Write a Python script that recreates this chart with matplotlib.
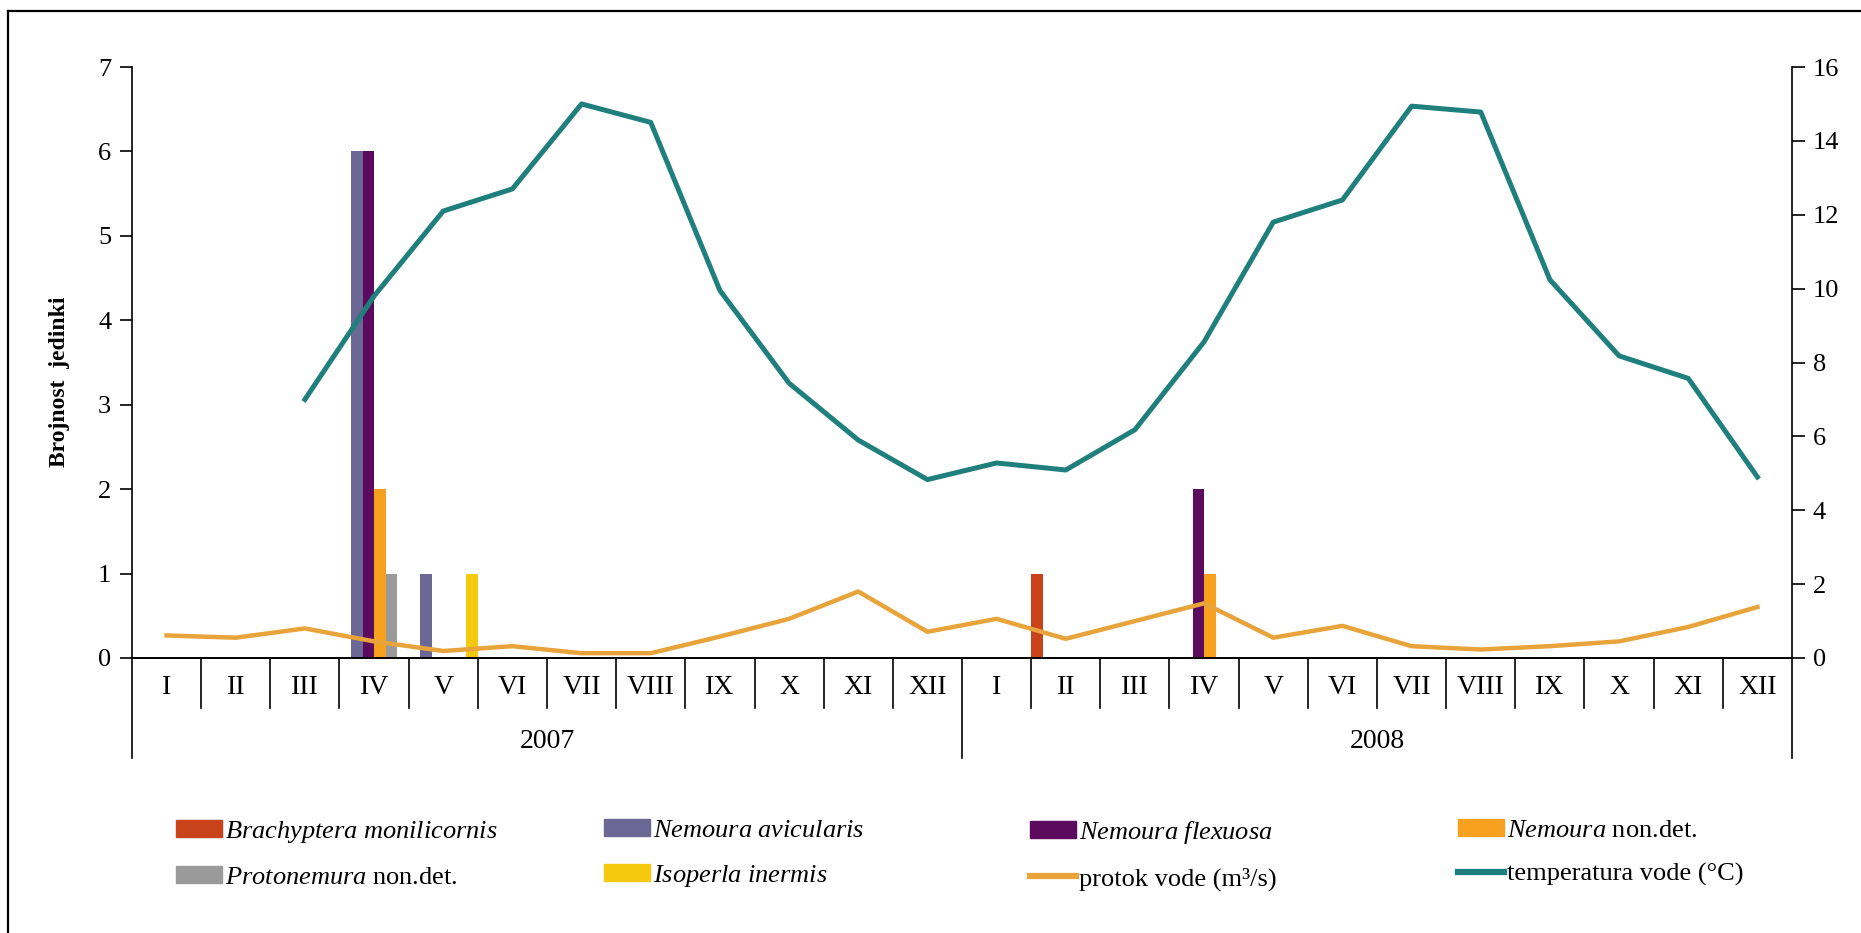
import matplotlib
matplotlib.use("Agg")
import matplotlib.pyplot as plt
import matplotlib.transforms as mtransforms
from matplotlib.patches import Patch
from matplotlib.lines import Line2D
import numpy as np

plt.rcParams['font.family'] = ['Liberation Serif', 'DejaVu Serif']
plt.rcParams['mathtext.fontset'] = 'custom'
plt.rcParams['mathtext.it'] = 'Liberation Serif:italic'
plt.rcParams['mathtext.rm'] = 'Liberation Serif'

# data
months = ["I", "II", "III", "IV", "V", "VI", "VII", "VIII", "IX", "X", "XI", "XII"] * 2
years = ["2007", "2008"]

brachyptera = [0, 0, 0, 0, 0, 0, 0, 0, 0, 0, 0, 0,
               0, 1, 0, 0, 0, 0, 0, 0, 0, 0, 0, 0]
avicularis = [0, 0, 0, 6, 1, 0, 0, 0, 0, 0, 0, 0,
              0, 0, 0, 0, 0, 0, 0, 0, 0, 0, 0, 0]
flexuosa = [0, 0, 0, 6, 0, 0, 0, 0, 0, 0, 0, 0,
            0, 0, 0, 2, 0, 0, 0, 0, 0, 0, 0, 0]
nemoura_nd = [0, 0, 0, 2, 0, 0, 0, 0, 0, 0, 0, 0,
              0, 0, 0, 1, 0, 0, 0, 0, 0, 0, 0, 0]
protonemura = [0, 0, 0, 1, 0, 0, 0, 0, 0, 0, 0, 0,
               0, 0, 0, 0, 0, 0, 0, 0, 0, 0, 0, 0]
isoperla = [0, 0, 0, 0, 1, 0, 0, 0, 0, 0, 0, 0,
            0, 0, 0, 0, 0, 0, 0, 0, 0, 0, 0, 0]

protok = [0.61, 0.55, 0.80, 0.45, 0.19, 0.32, 0.13, 0.13, 0.58, 1.06, 1.80, 0.71,
          1.06, 0.52, 1.00, 1.48, 0.55, 0.87, 0.32, 0.23, 0.32, 0.45, 0.84, 1.38]
temperatura = [np.nan, np.nan, 7.0, 9.8, 12.1, 12.7, 15.0, 14.5, 9.95, 7.44, 5.9, 4.83,
               5.28, 5.09, 6.18, 8.56, 11.8, 12.4, 14.94, 14.78, 10.24, 8.18, 7.57, 4.9]

species = [
    (brachyptera, "#C8421A", r"$\mathit{Brachyptera\ monilicornis}$"),
    (avicularis, "#6B6895", r"$\mathit{Nemoura\ avicularis}$"),
    (flexuosa, "#5B0A5E", r"$\mathit{Nemoura\ flexuosa}$"),
    (nemoura_nd, "#F7A01E", r"$\mathit{Nemoura}$ non.det."),
    (protonemura, "#9A9A9A", r"$\mathit{Protonemura}$ non.det."),
    (isoperla, "#F5C90F", r"$\mathit{Isoperla\ inermis}$"),
]
flow_color = "#E8A33A"
temp_color = "#1F7F7C"

W, H = 1861, 933
fig = plt.figure(figsize=(W / 100, H / 100), dpi=100)
ax = fig.add_axes([132 / W, 1 - 658 / H, (1792 - 132) / W, (658 - 67) / H])
ax2 = ax.twinx()

x = np.arange(len(months))
nser = len(species)
bw = 1.0 / nser
for k, (vals, col, lab) in enumerate(species):
    ax.bar(x - 0.5 + (k + 0.5) * bw, vals, width=bw, color=col, linewidth=0)

ax2.plot(x, protok, color=flow_color, lw=3.2, solid_joinstyle='round')
ax2.plot(x, temperatura, color=temp_color, lw=3.6, solid_joinstyle='round')

ax.set_xlim(-0.5, len(months) - 0.5)
ax.set_ylim(0, 7)
ax2.set_ylim(0, 16)
ax.set_yticks(range(0, 8))
ax2.set_yticks(range(0, 17, 2))
for a in (ax, ax2):
    a.spines['top'].set_visible(False)
    a.tick_params(axis='y', direction='out', length=9, width=1.2, labelsize=19, pad=6)
    a.set_xticks([])
    a.spines['left'].set_linewidth(1.2)
    a.spines['right'].set_linewidth(1.2)
    a.spines['bottom'].set_linewidth(1.2)
ax.spines['right'].set_visible(False)
ax2.spines['left'].set_visible(False)

# category axis (months + years)
trans = mtransforms.blended_transform_factory(ax.transData, ax.transAxes)
ah = (658 - 67)
for i in range(len(months) + 1):
    depth = 100 / ah if i % 12 == 0 else 50 / ah
    ax.plot([i - 0.5, i - 0.5], [0, -depth], color='black', lw=1.2,
            transform=trans, clip_on=False)
for i, m in enumerate(months):
    ax.text(i, -30 / ah, m, transform=trans, ha='center', va='center', fontsize=20)
for j, yr in enumerate(years):
    ax.text(j * 12 + 5.5, -84 / ah, yr, transform=trans, ha='center', va='center', fontsize=20)

fig.text(60 / W, 1 - 382 / H, "Brojnost  jedinki", rotation=90, ha='center', va='center',
         fontsize=17, fontweight='bold')

# legend in four columns
handles = [Patch(color=c, label=l) for _, c, l in species]
handles.append(Line2D([], [], color=flow_color, lw=4.5, label="protok vode (m\u00b3/s)"))
handles.append(Line2D([], [], color=temp_color, lw=4.5, label="temperatura vode (\u00b0C)"))
cols = [(handles[0], handles[4]), (handles[1], handles[5]),
        (handles[2], handles[6]), (handles[3], handles[7])]
col_x = [176, 604, 1030, 1458]
for cx, hs in zip(col_x, cols):
    fig.legend(handles=list(hs), loc='upper left', bbox_to_anchor=(cx / W, 1 - 819 / H),
               frameon=False, fontsize=19, handlelength=1.75, handleheight=0.6,
               handletextpad=0.1, borderpad=0, borderaxespad=0, labelspacing=0.8)

# outer frame
fig.add_artist(Line2D([8 / W, 1], [1 - 11 / H, 1 - 11 / H], color='black', lw=1.6))
fig.add_artist(Line2D([8 / W, 8 / W], [0, 1 - 11 / H], color='black', lw=1.6))

fig.savefig("out.png", dpi=100)
